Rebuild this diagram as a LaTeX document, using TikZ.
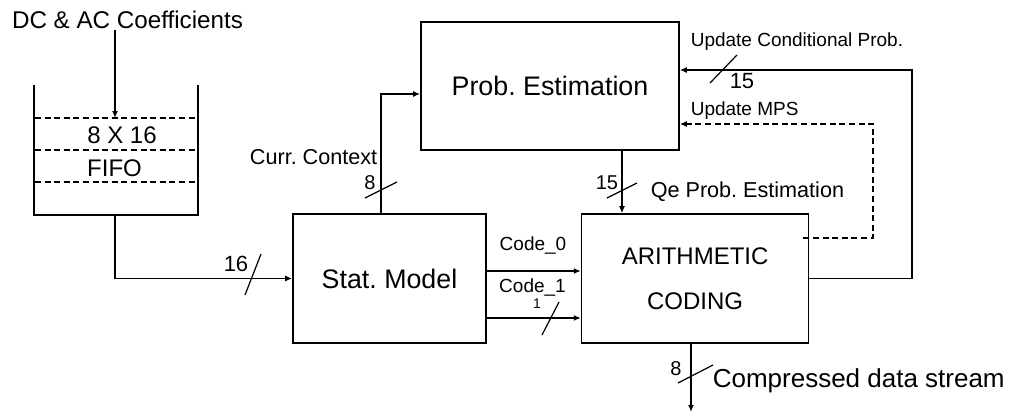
\documentclass[tikz,border=0pt]{standalone}
\usepackage{fontspec}
\setmainfont{Liberation Sans}
\usetikzlibrary{positioning,arrows.meta}
\frenchspacing

\begin{document}
\begin{tikzpicture}[
    x=0.5pt, y=-0.5pt,
    line width=0.8pt,
    box/.style={draw, rectangle, align=center, font=\fontsize{13.4}{16}\selectfont},
    lbl/.style={inner sep=0pt, font=\fontsize{10.8}{12}\selectfont},
    small/.style={inner sep=0pt, font=\fontsize{9.5}{11}\selectfont},
    wire/.style={-{Latex[length=3.5pt, width=3pt]}},
    bus/.style={line width=0.6pt},
    fifoline/.style={dash pattern=on 3pt off 1.8pt}
]
\useasboundingbox (0,0) rectangle (1009,414);

% Blocks
\node[box, minimum width=96.5pt, minimum height=64.5pt] (stat) at (389.5,278.5) {Stat. Model};
\node[box, minimum width=113.5pt, minimum height=64.5pt, right=47pt of stat, font=\fontsize{12}{22.5}\selectfont] (arith) {ARITHMETIC\\CODING};
\node[box, minimum width=129pt, minimum height=64pt] (prob) at (550,86) {Prob. Estimation};

% FIFO tank
\node[minimum width=81pt, minimum height=64pt, inner sep=0pt] (fifo) at (116,150) {};
\draw (fifo.north west) -- (fifo.south west) -- (fifo.south east) -- (fifo.north east);
\foreach \y in {118,150,182}
  \draw[fifoline] (35,\y) -- (195,\y);
\node[lbl, font=\fontsize{12}{14}\selectfont] (rows) at (122,135) {8 X 16};
\node[lbl, font=\fontsize{12}{14}\selectfont] (fifolbl) at (114.5,168) {FIFO};

% Labels
\node[lbl, font=\fontsize{12.1}{14}\selectfont] (coef) at (127.5,20) {DC \& AC Coefficients};
\node[lbl, font=\fontsize{11}{12}\selectfont] (w16) at (236,264) {16};
\node[lbl, anchor=east] (ctx) at (378,157) {Curr. Context};
\node[lbl, font=\fontsize{10}{12}\selectfont] (w8a) at (370,183) {8};
\node[small] (c0) at (533,245) {Code\_0};
\node[small] (c1) at (532.5,287) {Code\_1};
\node[lbl, font=\fontsize{7}{8}\selectfont] (w1) at (537,304) {1};
\node[lbl, anchor=west] (qe) at (650,192) {Qe Prob. Estimation};
\node[lbl, font=\fontsize{10}{12}\selectfont] (w15a) at (607,183) {15};
\node[small, anchor=west] (upd) at (690,42) {Update Conditional Prob.};
\node[lbl, font=\fontsize{11}{12}\selectfont] (w15b) at (742,81) {15};
\node[small, anchor=west] (mps) at (690,111) {Update MPS};
\node[lbl, font=\fontsize{10}{12}\selectfont] (w8b) at (676,369) {8};
\node[lbl, anchor=west, font=\fontsize{13}{15}\selectfont] (stream) at (712,381) {Compressed data stream};

\coordinate (fifoin) at (115,118);
\coordinate (streamend) at (691,412);

% Arrows
\draw[wire] (coef.south -| fifoin) -- (fifoin);
\draw[wire] (fifo.south -| fifoin) |- (stat.west);
\draw[wire] (stat.north -| 381,0) |- (prob.west |- 0,94);
\draw[wire] (prob.south -| 622,0) -- (arith.north -| 622,0);
\draw[wire] (stat.east |- 0,271) -- (arith.west |- 0,271);
\draw[wire] (stat.east |- 0,318) -- (arith.west |- 0,318);
\draw[wire] (arith.east) -| (912,70) -- (prob.east |- 0,70);
\draw[wire, fifoline] ([xshift=-3pt]arith.east |- 0,238) -| (873,124) -- (prob.east |- 0,124);
\draw[wire] (arith.south -| streamend) -- (streamend);

% Bus width marks
\draw[bus] (245,295) -- (261,254);
\draw[bus] (365,198) -- (397,182);
\draw[bus] (607,198) -- (637,183);
\draw[bus] (710,83) -- (737,55);
\draw[bus] (542,335) -- (559,302);
\draw[bus] (678,383) -- (713,365);
\end{tikzpicture}
\end{document}
